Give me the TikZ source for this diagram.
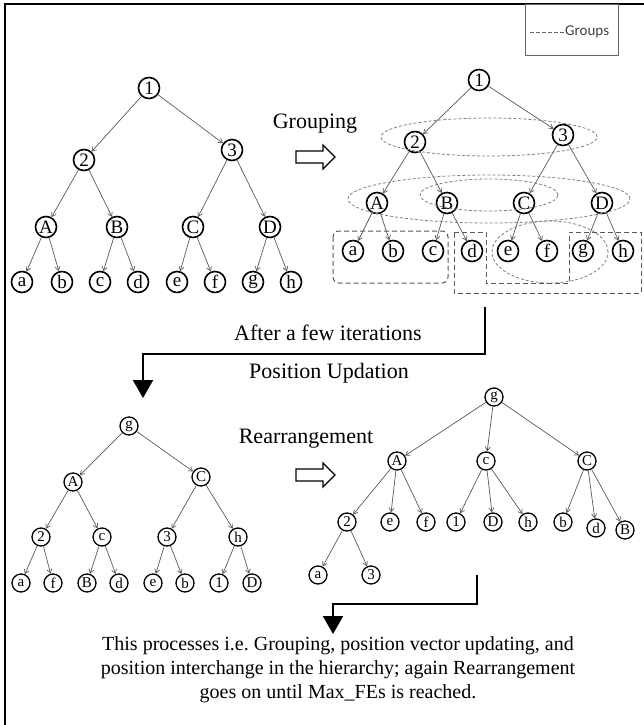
\documentclass[tikz,border=0pt]{standalone}
\usepackage{fontspec}
\setmainfont{Liberation Serif}
\newfontfamily\grpfont{Carlito}
\usetikzlibrary{arrows.meta}

\begin{document}
\frenchspacing
\begin{tikzpicture}[x=1pt,y=-1pt]
		\tikzstyle{nd}=[circle,draw=black,line width=1.6pt,minimum size=21pt,inner sep=0pt,font=\fontsize{19}{19}\selectfont]
		\tikzstyle{sn}=[circle,draw=black,line width=1.3pt,minimum size=18pt,inner sep=0pt,font=\fontsize{15}{15}\selectfont]
		\tikzstyle{lbl}=[font=\fontsize{22}{22}\selectfont]
		\tikzstyle{grp}=[draw=gray,line width=0.8pt,dash pattern=on 3pt off 2pt]
		\tikzstyle{box}=[draw=black!65,line width=1pt,dash pattern=on 5pt off 3pt]
		\tikzstyle{hollow}=[draw=black,line width=1.2pt,fill=white]
		\tikzstyle{flow}=[line width=2pt,-{Triangle[length=18pt,width=20pt]}]
		\useasboundingbox (0,0) rectangle (643,725);
		\draw[line width=2pt] (5,4) rectangle (648,730);

		% legend
		\draw[draw=black!60,line width=0.9pt] (525,4) rectangle (618,55);
		\coordinate (lg1) at (530,32);
		\coordinate (lg2) at (565,32);
		\draw[draw=black!60,line width=0.8pt,dash pattern=on 4pt off 2pt] (lg1) -- (lg2);
		\node[anchor=west,inner sep=0pt,text=black!75,font=\grpfont\fontsize{15}{15}\selectfont] (groups) at (lg2) {Groups};

		% first tree
		\begin{scope}
		\node[nd] (t1-1) at (149,88)  {1};
		\node[nd] (t1-2) at (84,160)  {2};
		\node[nd] (t1-3) at (232,150) {3};
		\node[nd] (t1-A) at (46,227)  {A};
		\node[nd] (t1-B) at (117,227) {B};
		\node[nd] (t1-C) at (193,227) {C};
		\node[nd] (t1-D) at (270,227) {D};
		\node[nd] (t1-a) at (22,282)  {a};
		\node[nd] (t1-b) at (62,282)  {b};
		\node[nd] (t1-c) at (100,282) {c};
		\node[nd] (t1-d) at (138,282) {d};
		\node[nd] (t1-e) at (177,282) {e};
		\node[nd] (t1-f) at (215,282) {f};
		\node[nd] (t1-g) at (253,282) {g};
		\node[nd] (t1-h) at (291,282) {h};
		\end{scope}

		% grouped tree
		\begin{scope}
		\node[nd] (t2-1) at (479,80)  {1};
		\node[nd] (t2-2) at (415,142) {2};
		\node[nd] (t2-3) at (563,135) {3};
		\node[nd] (t2-A) at (377,203) {A};
		\node[nd] (t2-B) at (447,203) {B};
		\node[nd] (t2-C) at (524,203) {C};
		\node[nd] (t2-D) at (602,203) {D};
		\node[nd] (t2-a) at (353,251) {a};
		\node[nd] (t2-b) at (393,251) {b};
		\node[nd] (t2-c) at (433,251) {c};
		\node[nd] (t2-d) at (472,251) {d};
		\node[nd] (t2-e) at (508,251) {e};
		\node[nd] (t2-f) at (547,251) {f};
		\node[nd] (t2-g) at (583,251) {g};
		\node[nd] (t2-h) at (623,251) {h};
		\end{scope}

		% tree after position updation
		\begin{scope}
		\node[sn] (t3-g) at (129,426) {g};
		\node[sn] (t3-A) at (73,482)  {A};
		\node[sn] (t3-C) at (201,477) {C};
		\node[sn] (t3-2) at (41,537)  {2};
		\node[sn] (t3-c) at (102,537) {c};
		\node[sn] (t3-3) at (167,537) {3};
		\node[sn] (t3-h) at (238,537) {h};
		\node[sn] (t3-a) at (21,583)  {a};
		\node[sn] (t3-f) at (53,583)  {f};
		\node[sn] (t3-B) at (87,583)  {B};
		\node[sn] (t3-d) at (119,583) {d};
		\node[sn] (t3-e) at (153,583) {e};
		\node[sn] (t3-b) at (185,583) {b};
		\node[sn] (t3-1) at (219,583) {1};
		\node[sn] (t3-D) at (252,583) {D};
		\end{scope}

		% rearranged tree
		\begin{scope}
		\node[sn] (t4-g) at (494,397) {g};
		\node[sn] (t4-A) at (397,461) {A};
		\node[sn] (t4-c) at (486,461) {c};
		\node[sn] (t4-C) at (587,461) {C};
		\node[sn] (t4-2) at (347,522) {2};
		\node[sn] (t4-e) at (390,522) {e};
		\node[sn] (t4-f) at (426,522) {f};
		\node[sn] (t4-1) at (456,522) {1};
		\node[sn] (t4-D) at (493,522) {D};
		\node[sn] (t4-h) at (528,522) {h};
		\node[sn] (t4-b) at (563,522) {b};
		\node[sn] (t4-d) at (596,528) {d};
		\node[sn] (t4-B) at (625,530) {B};
		\node[sn] (t4-a) at (318,575) {a};
		\node[sn] (t4-3) at (371,575) {3};
		\end{scope}

		\path[->,>={Straight Barb[length=4pt,width=5pt]},draw=black!65,line width=0.7pt]
		(t1-1) edge (t1-2)
		(t1-1) edge (t1-3)
		(t1-2) edge (t1-A)
		(t1-2) edge (t1-B)
		(t1-3) edge (t1-C)
		(t1-3) edge (t1-D)
		(t1-A) edge (t1-a)
		(t1-A) edge (t1-b)
		(t1-B) edge (t1-c)
		(t1-B) edge (t1-d)
		(t1-C) edge (t1-e)
		(t1-C) edge (t1-f)
		(t1-D) edge (t1-g)
		(t1-D) edge (t1-h)
		(t2-1) edge (t2-2)
		(t2-1) edge (t2-3)
		(t2-2) edge (t2-A)
		(t2-2) edge (t2-B)
		(t2-3) edge (t2-C)
		(t2-3) edge (t2-D)
		(t2-A) edge (t2-a)
		(t2-A) edge (t2-b)
		(t2-B) edge (t2-c)
		(t2-B) edge (t2-d)
		(t2-C) edge (t2-e)
		(t2-C) edge (t2-f)
		(t2-D) edge (t2-g)
		(t2-D) edge (t2-h)
		(t3-g) edge (t3-A)
		(t3-g) edge (t3-C)
		(t3-A) edge (t3-2)
		(t3-A) edge (t3-c)
		(t3-C) edge (t3-3)
		(t3-C) edge (t3-h)
		(t3-2) edge (t3-a)
		(t3-2) edge (t3-f)
		(t3-c) edge (t3-B)
		(t3-c) edge (t3-d)
		(t3-3) edge (t3-e)
		(t3-3) edge (t3-b)
		(t3-h) edge (t3-1)
		(t3-h) edge (t3-D)
		(t4-g) edge (t4-A)
		(t4-g) edge (t4-c)
		(t4-g) edge (t4-C)
		(t4-A) edge (t4-2)
		(t4-A) edge (t4-e)
		(t4-A) edge (t4-f)
		(t4-c) edge (t4-1)
		(t4-c) edge (t4-D)
		(t4-c) edge (t4-h)
		(t4-C) edge (t4-b)
		(t4-C) edge (t4-d)
		(t4-C) edge (t4-B)
		(t4-2) edge (t4-a)
		(t4-2) edge (t4-3)
		;

		% groups
		\draw[grp] (489,137) ellipse [x radius=108pt,y radius=19pt];
		\draw[grp] (489,199) ellipse [x radius=141pt,y radius=24pt];
		\draw[grp] (489,195) ellipse [x radius=69pt,y radius=16pt];
		\draw[grp] (550,252) ellipse [x radius=58pt,y radius=31pt];
		\draw[box,rounded corners=6pt] (333,231) rectangle (448,283);
		\draw[box] (454,232) -- (486,232) -- (486,283) -- (569,283) -- (569,232)
		-- (641,232) -- (641,293) -- (454,293) -- cycle;

		% labels and hollow arrows
		\node[lbl] (grouping) at (315,124) {Grouping};
		\node[lbl] (iter) at (328,333) {After a few iterations};
		\node[lbl] (updation) at (329,373) {Position Updation};
		\node[lbl] (rearr) at (306,439) {Rearrangement};
		\foreach \y in {157,475}
		\draw[hollow] (296,\y-6) -- (323,\y-6) -- (323,\y-12) -- (335,\y) -- (323,\y+12)
		-- (323,\y+6) -- (296,\y+6) -- cycle;

		% flow
		\coordinate (s1) at (485,307);
		\coordinate (k1) at (485,354);
		\coordinate (e1) at (143,398);
		\draw[flow] (s1) -- (k1) -| (e1);
		\coordinate (s2) at (477,575);
		\coordinate (k2) at (477,604);
		\coordinate (e2) at (333,634);
		\draw[flow] (s2) -- (k2) -| (e2);

		\node[align=center,font=\fontsize{20}{24}\selectfont] (note) at (338,670)
		{This processes i.e. Grouping, position vector updating, and\\
		position interchange in the hierarchy; again Rearrangement\\
		goes on until Max\_FEs is reached.};
		\end{tikzpicture}
\end{document}
